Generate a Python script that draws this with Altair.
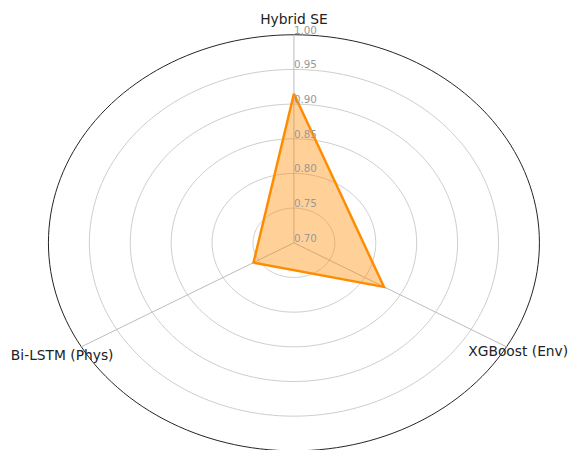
import altair as alt
import numpy as np
import pandas as pd

# ---- data ----
categories = ["Hybrid SE", "XGBoost (Env)", "Bi-LSTM (Phys)"]
values = [0.915, 0.827, 0.757]
tick_values = [0.70, 0.75, 0.80, 0.85, 0.90, 0.95, 1.00]
tick_labels = ["0.70", "0.75", "0.80", "0.85", "0.90", "0.95", "1.00"]
r_min, r_max = 0.70, 1.00

# ---- layout ----
W, H = 569, 442
cx, cy = 290, 235       # centre in plot pixels
rx, ry = 249, 211       # outer radius in pixels (x, y)
x_dom = [-cx / rx, (W - cx) / rx]
y_dom = [-(H - cy) / ry, cy / ry]
label_radius = [1.07, 1.055, 1.09]   # per category label distance (layout)

n = len(categories)
angles = [i * 360.0 / n for i in range(n)]


def norm(v):
    return (v - r_min) / (r_max - r_min)


def polar(r, deg):
    t = np.deg2rad(deg)
    return r * np.sin(t), r * np.cos(t)


# rings
ring_rows = []
for tv in tick_values[1:]:
    for k, a in enumerate(np.arange(0, 362, 2)):
        x, y = polar(norm(tv), a)
        ring_rows.append({"ring": tv, "k": k, "x": x, "y": y,
                          "outer": tv == r_max})
rings = pd.DataFrame(ring_rows)

# spokes
spk = []
for c, a in zip(categories, angles):
    x, y = polar(1.0, a)
    spk.append({"cat": c, "x": 0.0, "y": 0.0, "x2": x, "y2": y})
spokes = pd.DataFrame(spk)

# polygon
poly_rows = []
for i, (c, v, a) in enumerate(zip(categories + [categories[0]],
                                  values + [values[0]],
                                  angles + [360.0])):
    x, y = polar(norm(v), a)
    poly_rows.append({"cat": c, "value": v, "k": i, "x": x, "y": y})
poly = pd.DataFrame(poly_rows)

# category labels
lab = []
for c, a, lr in zip(categories, angles, label_radius):
    x, y = polar(lr, a)
    lab.append({"cat": c, "x": x, "y": y})
labels = pd.DataFrame(lab)

# tick labels
tl = pd.DataFrame({"label": tick_labels,
                   "x": [0.0] * len(tick_values),
                   "y": [norm(t) for t in tick_values]})

xs = alt.Scale(domain=x_dom, nice=False, zero=False)
ys = alt.Scale(domain=y_dom, nice=False, zero=False)
X = alt.X("x:Q", scale=xs, axis=None)
Y = alt.Y("y:Q", scale=ys, axis=None)

grid = alt.Chart(rings).transform_filter("!datum.outer").mark_line(
    color="#cccccc", strokeWidth=1).encode(X, Y, detail="ring:N", order="k:Q")
outer = alt.Chart(rings).transform_filter("datum.outer").mark_line(
    color="#222222", strokeWidth=1).encode(X, Y, detail="ring:N", order="k:Q")
spoke_layer = alt.Chart(spokes).mark_rule(color="#bbbbbb", strokeWidth=1).encode(
    X, Y, x2="x2:Q", y2="y2:Q")
poly_layer = alt.Chart(poly).mark_line(
    fill="#ff8c00", fillOpacity=0.4, stroke="#ff8c00", strokeWidth=2.5,
    strokeJoin="miter").encode(X, Y, order="k:Q")
tick_layer = alt.Chart(tl).mark_text(
    align="left", baseline="middle", dx=0, dy=-4, font="DejaVu Sans",
    fontSize=10.5, color="#999999").encode(X, Y, text="label:N")
cat_layer = alt.Chart(labels).mark_text(
    align="center", baseline="middle", font="DejaVu Sans", fontSize=14,
    color="#222222").encode(X, Y, text="cat:N")

chart = alt.layer(grid, outer, spoke_layer, poly_layer, tick_layer, cat_layer).properties(
    width=W, height=H, padding=0, autosize=alt.AutoSizeParams(type="none")
).configure_view(stroke=None)

chart.save("out.html", embed_options={"renderer": "svg", "actions": False})
